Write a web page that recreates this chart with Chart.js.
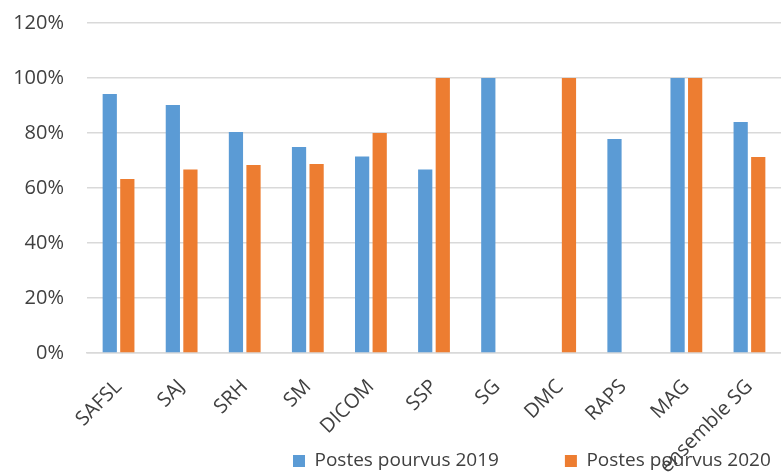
<!DOCTYPE html>
<html><head><meta charset="utf-8">
<script src="https://cdn.jsdelivr.net/npm/chart.js@4/dist/chart.umd.min.js"></script>
<style>html,body{margin:0;padding:0;background:#fff}#wrap{width:781px;height:472px}</style>
</head><body><div id="wrap"><canvas id="c"></canvas></div>
<script>
const categories = ["SAFSL","SAJ","SRH","SM","DICOM","SSP","SG","DMC","RAPS","MAG","ensemble SG"];
const postes2019 = [94.2, 90.2, 80.4, 74.9, 71.5, 66.7, 100, 0, 77.8, 100, 84.0];
const postes2020 = [63.3, 66.7, 68.4, 68.7, 80.0, 100, 0, 100, 0, 100, 71.3];
const yTicks = [0,20,40,60,80,100,120];
const seriesNames = ["Postes pourvus 2019","Postes pourvus 2020"];

const FONT = "'Open Sans', sans-serif";
const TEXT = '#404040';
const LEGEND_PAD = 66;      // gap between legend items
const LEGEND_LEFT = 293;    // left edge of first legend box
const LEGEND_TEXT_Y = 461;  // vertical centre of legend text

const legendPlace = {
  id:'legendPlace',
  afterLayout(chart){
    const l = chart.legend;
    if(l){
      const fs = l.options.labels.font.size;
      const curX = (l.left + LEGEND_PAD + l.right - l.lineWidths[0]) / 2;
      const dx = LEGEND_LEFT - curX;
      const curY = l.top + LEGEND_PAD + fs/2;
      const dy = LEGEND_TEXT_Y - curY;
      l.left += dx; l.right += dx; l.top += dy; l.bottom = chart.height;
    }
    const x = chart.scales.x;
    if(x){ x.bottom = chart.height; }
  }
};
new Chart(document.getElementById('c'), {
  type:'bar',
  data:{ labels:categories, datasets:[
    {label:seriesNames[0], data:postes2019, backgroundColor:'#5B9BD5'},
    {label:seriesNames[1], data:postes2020, backgroundColor:'#ED7D31'}
  ]},
  options:{
    responsive:true, maintainAspectRatio:false, animation:false,
    datasets:{bar:{categoryPercentage:0.557, barPercentage:0.81}},
    layout:{padding:{top:23,left:0,right:0,bottom:0}},
    plugins:{
      tooltip:{enabled:false},
      legend:{position:'bottom', maxHeight:28,
        labels:{font:{family:FONT,size:19}, color:TEXT, boxWidth:12, boxHeight:12, padding:LEGEND_PAD}},
    },
    scales:{
      x:{ grid:{display:false, drawTicks:false}, border:{color:'#d9d9d9', width:1.5},
          ticks:{font:{family:FONT,size:20}, color:TEXT, maxRotation:45, minRotation:45, padding:22, autoSkip:false},
          afterFit(s){ s.height = 91; s.paddingLeft = 0; s.paddingRight = 0; } },
      y:{ min:0, max:120, afterBuildTicks(s){ s.ticks = yTicks.map(v=>({value:v})); },
          grid:{color:'#d9d9d9', lineWidth:1.5, drawTicks:false}, border:{display:false},
          ticks:{font:{family:FONT,size:20}, color:TEXT, padding:23, callback:v=>v+'%'},
          afterFit(s){ s.width = 87; s.paddingTop = 0; s.paddingBottom = 0; } }
    }
  },
  plugins:[legendPlace]
});
</script></body></html>
